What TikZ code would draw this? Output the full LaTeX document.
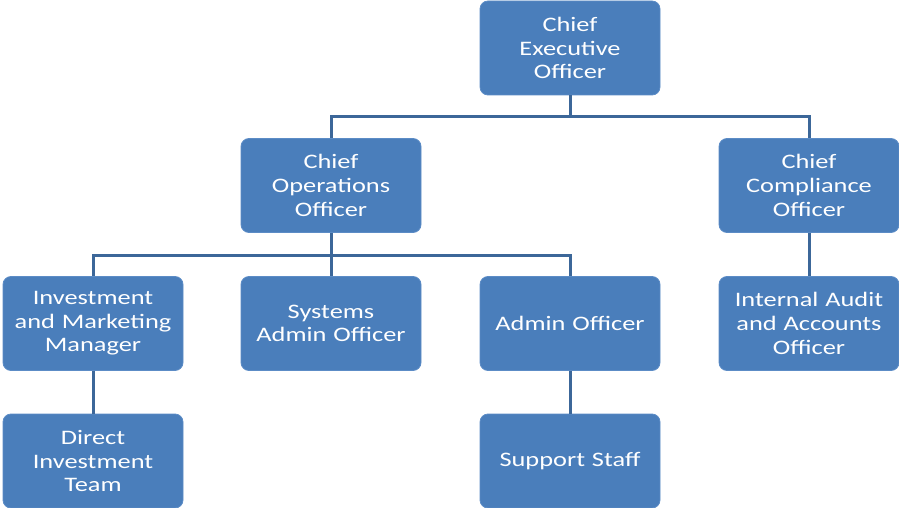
\documentclass[tikz,border=0pt]{standalone}
\usepackage{fontspec}
\setmainfont{Carlito}[FakeStretch=1.28]
\definecolor{boxblue}{HTML}{4A7EBB}
\definecolor{boxedge}{HTML}{5C8CC6}
\definecolor{linkblue}{HTML}{3C6799}
\begin{document}
\begin{tikzpicture}[x=1pt,y=-1pt,
  orgbox/.style={draw=boxedge, line width=0.8pt, fill=boxblue, rounded corners=8pt,
    minimum width=180pt, minimum height=94pt, inner sep=2pt, align=center,
    text=white, font=\fontsize{20.6}{23.6}\selectfont, text width=176pt},
  link/.style={draw=linkblue, line width=3pt}]
\useasboundingbox (0,0) rectangle (899,508);
\node[orgbox] (ceo) at (570,48) {Chief\\Executive\\Officer};
\node[orgbox] (coo) at (331,185.5) {Chief\\Operations\\Officer};
\node[orgbox] (cco) at (809,185.5) {Chief\\Compliance\\Officer};
\node[orgbox] (imm) at (93,323.5) {Investment\\and Marketing\\Manager};
\node[orgbox] (sao) at (331,323.5) {Systems\\Admin Officer};
\node[orgbox] (ado) at (570,323.5) {Admin Officer};
\node[orgbox] (iaa) at (809,323.5) {Internal Audit\\and Accounts\\Officer};
\node[orgbox] (dit) at (93,461) {Direct\\Investment\\Team};
\node[orgbox] (sup) at (570,461) {Support Staff};
\coordinate (ceobus) at (570,117);
\coordinate (coobus) at (331,255);
\draw[link] (ceo.south) -- (ceobus);
\draw[link] (ceobus) -| (coo.north);
\draw[link] (ceobus) -| (cco.north);
\draw[link] (coo.south) -- (coobus);
\draw[link] (coobus) -| (imm.north);
\draw[link] (coobus) -- (sao.north);
\draw[link] (coobus) -| (ado.north);
\draw[link] (cco.south) -- (iaa.north);
\draw[link] (imm.south) -- (dit.north);
\draw[link] (ado.south) -- (sup.north);
\end{tikzpicture}
\end{document}
